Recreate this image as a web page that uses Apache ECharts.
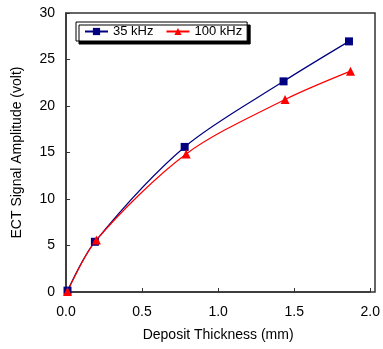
<!DOCTYPE html>
<html>
<head>
<meta charset="utf-8">
<script src="https://cdn.jsdelivr.net/npm/echarts@6/dist/echarts.min.js"></script>
<style>
  html, body { margin: 0; padding: 0; background: #fff; }
  #chart { width: 383px; height: 349px; }
</style>
</head>
<body>
<div id="chart"></div>
<script>
const thickness35 = [0.01, 0.19, 0.78, 1.43, 1.86];
const amp35 = [0.15, 5.4, 15.6, 22.65, 26.95];
const thickness100 = [0.01, 0.2, 0.79, 1.44, 1.87];
const amp100 = [0.05, 5.6, 14.85, 20.7, 23.75];
const seriesNames = ["35 kHz", "100 kHz"];

const font = "Liberation Sans, Arial, sans-serif";
const chart = echarts.init(document.getElementById("chart"));

const pairs = (xs, ys) => xs.map((x, i) => [x, ys[i]]);

chart.setOption({
  animation: false,
  textStyle: { fontFamily: font },
  grid: { left: 66, right: 8, top: 13, bottom: 57 },
  legend: {
    orient: "horizontal",
    left: 76,
    top: 22,
    padding: [3, 5, 3, 8],
    itemGap: 12,
    itemWidth: 23,
    itemHeight: 9,
    borderColor: "#000",
    borderWidth: 1,
    backgroundColor: "#fff",
    shadowColor: "#000",
    shadowBlur: 0.01,
    shadowOffsetX: 3,
    shadowOffsetY: 3,
    textStyle: { fontFamily: font, fontSize: 13, color: "#000" },
    data: seriesNames
  },
  xAxis: {
    type: "value",
    min: 0,
    max: 2,
    interval: 0.5,
    name: "Deposit Thickness (mm)",
    nameLocation: "middle",
    nameGap: 36,
    nameTextStyle: { fontFamily: font, fontSize: 14, color: "#000" },
    axisLine: { lineStyle: { color: "#333", width: 1.5 } },
    axisTick: { inside: true, length: 4, lineStyle: { color: "#333" } },
    axisLabel: {
      fontFamily: font, fontSize: 14, color: "#000", margin: 13,
      formatter: v => v.toFixed(1)
    },
    splitLine: { show: false }
  },
  yAxis: {
    type: "value",
    min: 0,
    max: 30,
    interval: 5,
    name: "ECT Signal Amplitude (volt)",
    nameLocation: "middle",
    nameGap: 42,
    nameTextStyle: { fontFamily: font, fontSize: 14, color: "#000" },
    axisLine: { show: true, lineStyle: { color: "#333", width: 1.5 } },
    axisTick: { show: true, inside: true, length: 4, lineStyle: { color: "#333" } },
    axisLabel: { fontFamily: font, fontSize: 14, color: "#000", margin: 11 },
    splitLine: { show: false }
  },
  graphic: [{
    type: "rect",
    shape: { x: 66, y: 13, width: 309, height: 279 },
    style: { fill: "none", stroke: "#333", lineWidth: 1.5 },
    silent: true,
    z: 0
  }],
  series: [
    {
      name: seriesNames[0],
      type: "line",
      smooth: 0.3,
      data: pairs(thickness35, amp35),
      symbol: "rect",
      symbolSize: 8,
      itemStyle: { color: "#000080" },
      lineStyle: { color: "#000080", width: 1.2 }
    },
    {
      name: seriesNames[1],
      type: "line",
      smooth: 0.3,
      data: pairs(thickness100, amp100),
      symbol: "triangle",
      symbolSize: 9,
      itemStyle: { color: "#ff0000" },
      lineStyle: { color: "#ff0000", width: 1.2 }
    }
  ]
});
</script>
</body>
</html>
